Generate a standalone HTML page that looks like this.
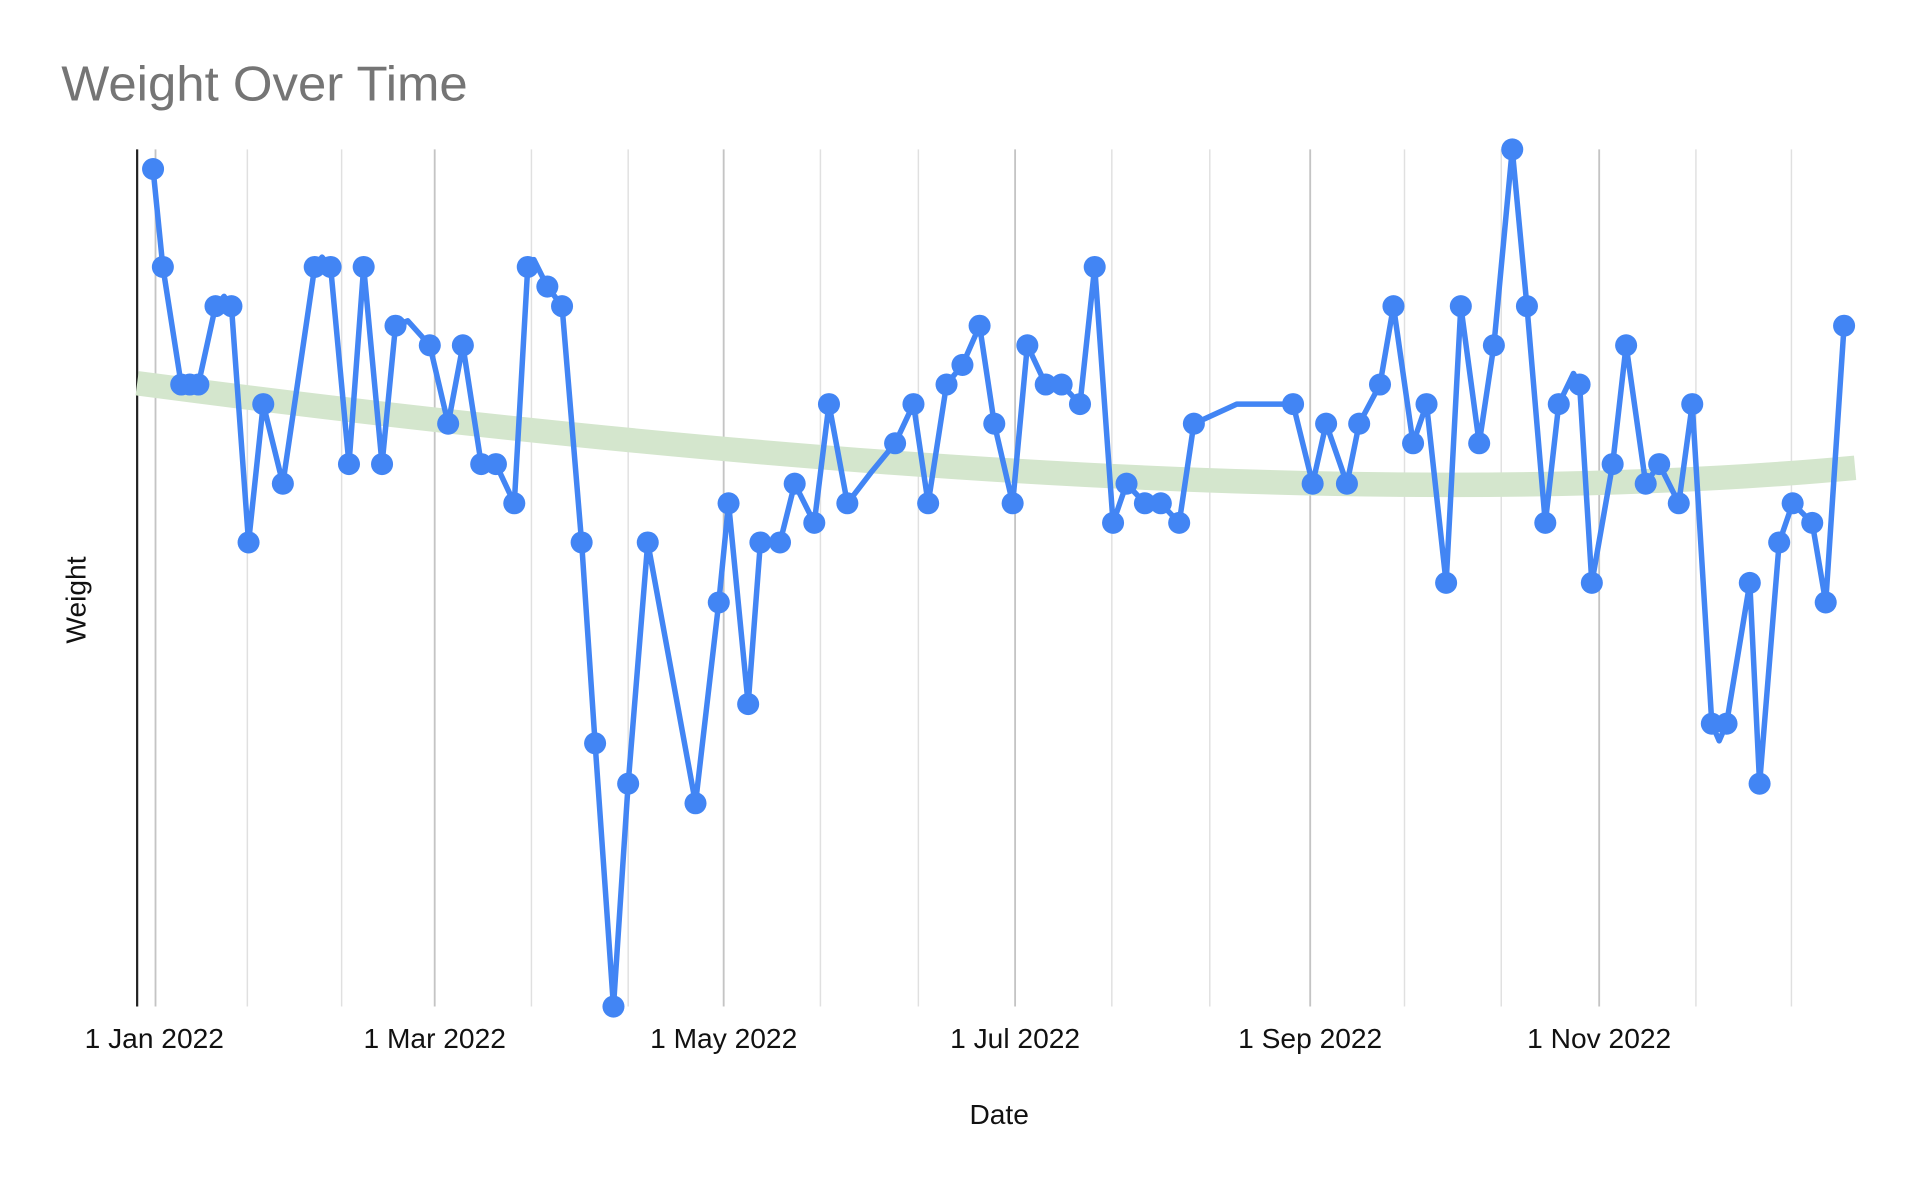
<!DOCTYPE html>
<html><head><meta charset="utf-8"><style>html,body{margin:0;padding:0;background:#fff}svg{display:block}</style></head>
<body>
<svg width="1920" height="1190" viewBox="0 0 1568 971.8" xmlns="http://www.w3.org/2000/svg" font-family="'Liberation Sans', Arial, sans-serif">
<rect width="1568" height="971.8" fill="#fff"/>
<text x="50" y="82" font-size="40" fill="#757575" textLength="332" lengthAdjust="spacingAndGlyphs">Weight Over Time</text>
<g stroke="#e0e0e0" stroke-width="1.2">
<line x1="202" y1="122" x2="202" y2="822"/><line x1="279" y1="122" x2="279" y2="822"/>
<line x1="434" y1="122" x2="434" y2="822"/><line x1="513" y1="122" x2="513" y2="822"/>
<line x1="670" y1="122" x2="670" y2="822"/><line x1="750" y1="122" x2="750" y2="822"/>
<line x1="908" y1="122" x2="908" y2="822"/><line x1="988" y1="122" x2="988" y2="822"/>
<line x1="1147" y1="122" x2="1147" y2="822"/><line x1="1226" y1="122" x2="1226" y2="822"/>
<line x1="1385" y1="122" x2="1385" y2="822"/><line x1="1463" y1="122" x2="1463" y2="822"/>
</g>
<g stroke="#c4c4c4" stroke-width="1.5">
<line x1="127" y1="122" x2="127" y2="822"/><line x1="355" y1="122" x2="355" y2="822"/>
<line x1="591" y1="122" x2="591" y2="822"/><line x1="829" y1="122" x2="829" y2="822"/>
<line x1="1070" y1="122" x2="1070" y2="822"/><line x1="1306" y1="122" x2="1306" y2="822"/>
</g>
<line x1="112" y1="122" x2="112" y2="822" stroke="#222" stroke-width="1.8"/>
<path d="M112,313 Q1000,430 1515,382" fill="none" stroke="#d4e6cd" stroke-width="20"/>
<polyline fill="none" stroke="#4285f4" stroke-width="4.5" stroke-linejoin="round" points="125,138 133,218 148,314 155,314 162,314 176,250 183,242 189,250 203,443 215,330 231,395 257,218 263,210 270,218 285,379 297,218 312,379 323,266 333,262 351,282 366,346 378,282 393,379 405,379 420,411 431,218 436,212 447,234 459,250 475,443 486,607 501,822 513,640 529,443 568,656 587,492 595,411 611,575 621,443 637,443 649,395 665,427 677,330 692,411 712,385 731,362 746,330 758,411 773,314 786,298 800,266 812,346 827,411 839,282 854,314 867,314 882,330 894,218 909,427 920,395 935,411 948,411 963,427 975,346 1010,330 1056,330 1072,395 1083,346 1100,395 1110,346 1127,314 1138,250 1154,362 1165,330 1181,476 1193,250 1208,362 1220,282 1235,122 1247,250 1262,427 1273,330 1285,305 1290,314 1300,476 1317,379 1328,282 1344,395 1355,379 1371,411 1382,330 1398,591 1404,605 1410,591 1429,476 1437,640 1453,443 1464,411 1480,427 1491,492 1506,266"/>
<g fill="#4285f4">
<circle cx="125" cy="138" r="9"/><circle cx="133" cy="218" r="9"/><circle cx="148" cy="314" r="9"/><circle cx="155" cy="314" r="9"/><circle cx="162" cy="314" r="9"/><circle cx="176" cy="250" r="9"/><circle cx="189" cy="250" r="9"/><circle cx="203" cy="443" r="9"/><circle cx="215" cy="330" r="9"/><circle cx="231" cy="395" r="9"/><circle cx="257" cy="218" r="9"/><circle cx="270" cy="218" r="9"/><circle cx="285" cy="379" r="9"/><circle cx="297" cy="218" r="9"/><circle cx="312" cy="379" r="9"/><circle cx="323" cy="266" r="9"/><circle cx="351" cy="282" r="9"/><circle cx="366" cy="346" r="9"/><circle cx="378" cy="282" r="9"/><circle cx="393" cy="379" r="9"/><circle cx="405" cy="379" r="9"/><circle cx="420" cy="411" r="9"/><circle cx="431" cy="218" r="9"/><circle cx="447" cy="234" r="9"/><circle cx="459" cy="250" r="9"/><circle cx="475" cy="443" r="9"/><circle cx="486" cy="607" r="9"/><circle cx="501" cy="822" r="9"/><circle cx="513" cy="640" r="9"/><circle cx="529" cy="443" r="9"/><circle cx="568" cy="656" r="9"/><circle cx="587" cy="492" r="9"/><circle cx="595" cy="411" r="9"/><circle cx="611" cy="575" r="9"/><circle cx="621" cy="443" r="9"/><circle cx="637" cy="443" r="9"/><circle cx="649" cy="395" r="9"/><circle cx="665" cy="427" r="9"/><circle cx="677" cy="330" r="9"/><circle cx="692" cy="411" r="9"/><circle cx="731" cy="362" r="9"/><circle cx="746" cy="330" r="9"/><circle cx="758" cy="411" r="9"/><circle cx="773" cy="314" r="9"/><circle cx="786" cy="298" r="9"/><circle cx="800" cy="266" r="9"/><circle cx="812" cy="346" r="9"/><circle cx="827" cy="411" r="9"/><circle cx="839" cy="282" r="9"/><circle cx="854" cy="314" r="9"/><circle cx="867" cy="314" r="9"/><circle cx="882" cy="330" r="9"/><circle cx="894" cy="218" r="9"/><circle cx="909" cy="427" r="9"/><circle cx="920" cy="395" r="9"/><circle cx="935" cy="411" r="9"/><circle cx="948" cy="411" r="9"/><circle cx="963" cy="427" r="9"/><circle cx="975" cy="346" r="9"/><circle cx="1056" cy="330" r="9"/><circle cx="1072" cy="395" r="9"/><circle cx="1083" cy="346" r="9"/><circle cx="1100" cy="395" r="9"/><circle cx="1110" cy="346" r="9"/><circle cx="1127" cy="314" r="9"/><circle cx="1138" cy="250" r="9"/><circle cx="1154" cy="362" r="9"/><circle cx="1165" cy="330" r="9"/><circle cx="1181" cy="476" r="9"/><circle cx="1193" cy="250" r="9"/><circle cx="1208" cy="362" r="9"/><circle cx="1220" cy="282" r="9"/><circle cx="1235" cy="122" r="9"/><circle cx="1247" cy="250" r="9"/><circle cx="1262" cy="427" r="9"/><circle cx="1273" cy="330" r="9"/><circle cx="1290" cy="314" r="9"/><circle cx="1300" cy="476" r="9"/><circle cx="1317" cy="379" r="9"/><circle cx="1328" cy="282" r="9"/><circle cx="1344" cy="395" r="9"/><circle cx="1355" cy="379" r="9"/><circle cx="1371" cy="411" r="9"/><circle cx="1382" cy="330" r="9"/><circle cx="1398" cy="591" r="9"/><circle cx="1410" cy="591" r="9"/><circle cx="1429" cy="476" r="9"/><circle cx="1437" cy="640" r="9"/><circle cx="1453" cy="443" r="9"/><circle cx="1464" cy="411" r="9"/><circle cx="1480" cy="427" r="9"/><circle cx="1491" cy="492" r="9"/><circle cx="1506" cy="266" r="9"/>
</g>
<g font-size="23" fill="#111" text-anchor="middle">
<text x="126" y="856">1 Jan 2022</text>
<text x="355" y="856">1 Mar 2022</text>
<text x="591" y="856">1 May 2022</text>
<text x="829" y="856">1 Jul 2022</text>
<text x="1070" y="856">1 Sep 2022</text>
<text x="1306" y="856">1 Nov 2022</text>
<text x="816" y="918">Date</text>
<text transform="translate(70,490) rotate(-90)">Weight</text>
</g>
</svg>
</body></html>
